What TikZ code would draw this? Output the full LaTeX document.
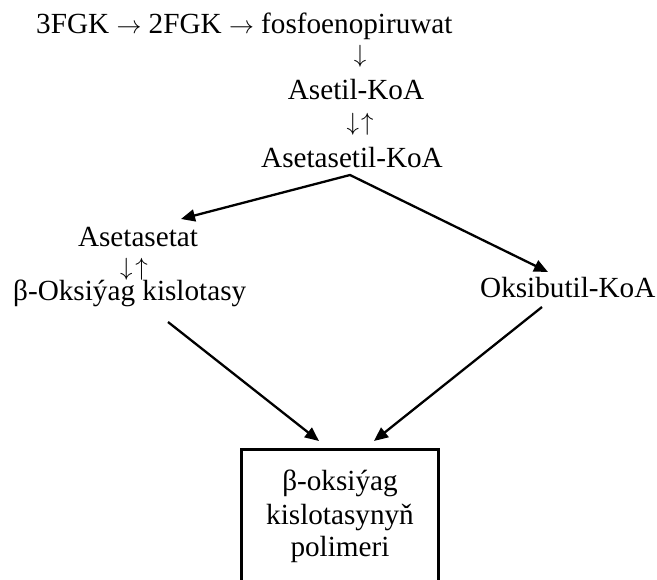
\documentclass[tikz,border=0pt]{standalone}
\usepackage{fontspec}
\setmainfont{Liberation Serif}
\usetikzlibrary{arrows.meta}
\begin{document}
\begin{tikzpicture}[x=1pt,y=-1pt,
  lbl/.style={inner sep=0pt, font=\fontsize{29.2}{33}\selectfont, anchor=base},
  arr/.style={line width=2.3pt, -{Triangle[length=14pt,width=12pt]}},
  both/.style={line width=2.3pt, {Triangle[length=14pt,width=12pt]}-{Triangle[length=14pt,width=12pt]}, line join=miter}]
\clip (0,0) rectangle (657,580);
% text nodes
\node[lbl, anchor=base west] (top) at (36,34) {3FGK $\rightarrow$ 2FGK $\rightarrow$ fosfoenopiruwat};
\node[lbl] (d1) at (360,63) {$\downarrow$};
\node[lbl] (acetyl) at (356,100) {Asetil-KoA};
\node[lbl] (eq2) at (360,131) {$\downarrow\mkern1.5mu\uparrow$};
\node[lbl] (acac) at (352,168) {Asetasetil-KoA};
\node[lbl] (acetoacetate) at (138,247) {Asetasetat};
\node[lbl] (eq3) at (134,276) {$\downarrow\mkern2mu\uparrow$};
\node[lbl, anchor=base west] (hydroxy) at (13,301) {β-Oksiýag kislotasy};
\node[lbl, anchor=base west] (oxybutyl) at (480,298) {Oksibutil-KoA};
% box
\node[draw, line width=2.7pt, minimum width=197pt, minimum height=170pt, anchor=north, inner sep=0pt] (box) at (340,448) {};
\node[lbl] (p1) at (340,490) {β-oksiýag};
\node[lbl] (p2) at (340,524) {kislotasynyň};
\node[lbl] (p3) at (340,556) {polimeri};
% connector coordinates
\coordinate (apex) at (350,175);
\coordinate (aL) at (181,219);
\coordinate (aR) at (548,272);
\coordinate (sL) at (168,322);
\coordinate (tL) at (319,441);
\coordinate (sR) at (542,307);
\coordinate (tR) at (374,441);
% connectors
\draw[both] (aL) -- (apex) -- (aR);
\draw[arr] (sL) -- (tL);
\draw[arr] (sR) -- (tR);
\end{tikzpicture}
\end{document}
